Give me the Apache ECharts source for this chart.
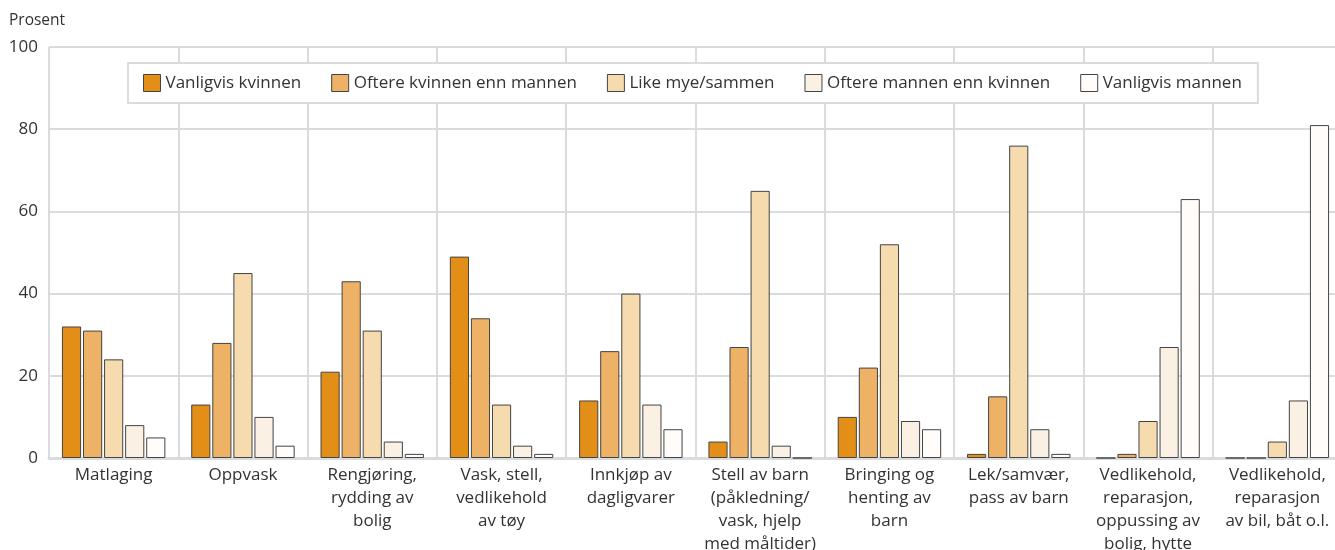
<!DOCTYPE html>
<html>
<head>
<meta charset="utf-8">
<script src="https://cdn.jsdelivr.net/npm/echarts@6/dist/echarts.min.js"></script>
<style>
    html, body { margin: 0; padding: 0; background: #fff; }
    #chart { width: 1335px; height: 550px; }
</style>
</head>
<body>
<div id="chart"></div>
<script>
    // kategorier (aktiviteter)
    const categories = [
        "Matlaging",
        "Oppvask",
        "Rengjøring,\nrydding av\nbolig",
        "Vask, stell,\nvedlikehold\nav tøy",
        "Innkjøp av\ndagligvarer",
        "Stell av barn\n(påkledning/\nvask, hjelp\nmed måltider)",
        "Bringing og\nhenting av\nbarn",
        "Lek/samvær,\npass av barn",
        "Vedlikehold,\nreparasjon,\noppussing av\nbolig, hytte",
        "Vedlikehold,\nreparasjon\nav bil, båt o.l."
    ];
    const seriesNames = ["Vanligvis kvinnen", "Oftere kvinnen enn mannen", "Like mye/sammen", "Oftere mannen enn kvinnen", "Vanligvis mannen"];
    const vanligvisKvinnen = [32, 13, 21, 49, 14, 4, 10, 1, 0, 0];
    const oftereKvinnen = [31, 28, 43, 34, 26, 27, 22, 15, 1, 0];
    const likeMye = [24, 45, 31, 13, 40, 65, 52, 76, 9, 4];
    const oftereMannen = [8, 10, 4, 3, 13, 3, 9, 7, 27, 14];
    const vanligvisMannen = [5, 3, 1, 1, 7, 0, 7, 1, 63, 81];
    const yTicks = [0, 20, 40, 60, 80, 100];

    const colors = ["#E38E17", "#EDB266", "#F5DBAE", "#FAF0E4", "#FFFCF9"];
    const gridColor = "#D9DCDF";
    const font = "'Open Sans', sans-serif";

    const chart = echarts.init(document.getElementById('chart'));
    const allData = [vanligvisKvinnen, oftereKvinnen, likeMye, oftereMannen, vanligvisMannen];
    const series = allData.map((d, i) => ({
        name: seriesNames[i],
        type: 'bar',
        data: d,
        barGap: '10%',
        barCategoryGap: '20%',
        itemStyle: { color: colors[i], borderColor: '#444', borderWidth: 1 },
        emphasis: { disabled: true }
    }));

    const option = {
        animation: false,
        textStyle: { fontFamily: font },
        grid: { left: 49, right: -7, top: 47, bottom: 92, containLabel: false, outerBoundsMode: 'none' },
        legend: {
            data: seriesNames,
            left: 128,
            top: 63,
            padding: [11, 16, 11, 15],
            itemWidth: 17,
            itemHeight: 17,
            itemGap: 30,
            backgroundColor: '#fff',
            borderColor: gridColor,
            borderWidth: 2,
            icon: 'rect',
            textStyle: { fontSize: 17, color: '#333', fontFamily: font },
            itemStyle: { borderColor: '#444', borderWidth: 1 }
        },
        xAxis: {
            type: 'category',
            data: categories,
            axisLine: { show: true, lineStyle: { color: gridColor, width: 3 } },
            axisTick: { show: false },
            splitLine: { show: true, lineStyle: { color: gridColor, width: 2 } },
            axisLabel: { fontSize: 17, color: '#333', lineHeight: 23, margin: 6, interval: 0, fontFamily: font }
        },
        yAxis: {
            type: 'value',
            min: yTicks[0],
            max: yTicks[yTicks.length - 1],
            interval: 20,
            name: 'Prosent',
            nameLocation: 'end',
            nameGap: 18,
            nameTextStyle: { fontSize: 15.5, color: '#333', align: 'left', padding: [0, 0, 0, -40], fontFamily: font },
            axisLine: { show: false },
            axisTick: { show: false },
            splitLine: { lineStyle: { color: gridColor, width: 2 } },
            axisLabel: { fontSize: 17, color: '#333', margin: 11, fontFamily: font }
        },
        series: series
    };
    chart.setOption(option);
</script>
</body>
</html>
